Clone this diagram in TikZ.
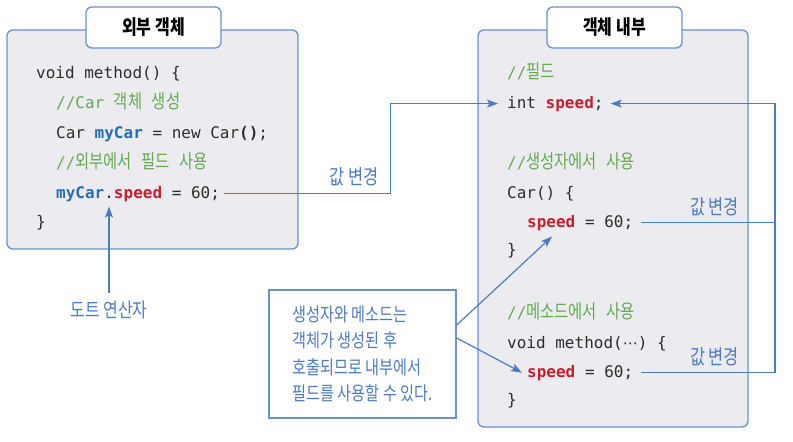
\documentclass[tikz,border=0pt]{standalone}
\usepackage{fontspec}
\setmainfont[FakeStretch=0.8]{Noto Sans CJK KR}
\setmonofont{DejaVu Sans Mono}
\newfontfamily\krf[FakeStretch=0.8]{Noto Sans CJK KR}
\newfontfamily\dejavu{DejaVu Sans}
\usetikzlibrary{arrows.meta}
\definecolor{boxline}{RGB}{104,146,206}
\definecolor{boxfill}{RGB}{236,236,240}
\definecolor{arrowc}{RGB}{72,125,196}
\definecolor{cmtc}{RGB}{100,170,80}
\definecolor{idblue}{RGB}{38,108,178}
\definecolor{idred}{RGB}{196,32,48}
\definecolor{codec}{RGB}{45,45,45}
\definecolor{lblc}{RGB}{76,124,194}
\newcommand\kor[1]{{\krf\fontsize{19.2}{16}\selectfont #1}}
\newcommand\cmtx[1]{\textcolor{cmtc}{#1}}
\newcommand\blueid[1]{\textcolor{idblue}{\bfseries #1}}
\newcommand\redid[1]{\textcolor{idred}{\bfseries #1}}
\tikzset{
  codeline/.style={anchor=base west, inner sep=0pt, text=codec,
    font=\ttfamily\fontsize{16}{16}\selectfont},
  panel/.style={draw=boxline, fill=boxfill, line width=1.3pt, rounded corners=6pt},
  titlebox/.style={draw=boxline, fill=white, line width=1.3pt, rounded corners=6pt,
    minimum width=135pt, minimum height=41pt, inner sep=0pt,
    font=\bfseries\fontsize{20}{20}\selectfont, text=black},
  lbl/.style={inner sep=0pt, text=lblc, font=\fontsize{20.5}{20}\selectfont},
  conn/.style={draw=arrowc, line width=1.2pt},
  tip/.style={-{Stealth[length=11pt,width=8pt,inset=2.5pt]}},
  callout/.style={draw=boxline, fill=white, line width=1.4pt,
    minimum width=187pt, minimum height=128pt, inner sep=0pt, align=left,
    text=lblc, font=\fontsize{19}{26.5}\selectfont},
}
\begin{document}
\begin{tikzpicture}[x=1pt,y=-1pt]
\useasboundingbox (0,0) rectangle (793,442);
% panels
\node[panel, minimum width=291pt, minimum height=219pt, inner sep=0pt] (outer) at (152.5,139.5) {};
\node[panel, minimum width=270pt, minimum height=397pt, inner sep=0pt] (inner) at (613,228.5) {};
\node[titlebox] (t1) at (153.5,27.5) {외부 객체};
\node[titlebox] (t2) at (614.5,27.5) {객체 내부};
% left code
\node[codeline] (l1) at (36,78) {void method() \{};
\node[codeline] (l2) at (56,108) {\cmtx{//Car \kor{객체} \kor{생성}}};
\node[codeline] (l3) at (56,138) {Car \blueid{myCar} = new Car\textbf{()};};
\node[codeline] (l4) at (56,168) {\cmtx{//\kor{외부에서} \kor{필드} \kor{사용}}};
\node[codeline] (l5) at (56,198) {\blueid{myCar}.\redid{speed} = 60;};
\node[codeline] (l6) at (36,227) {\}};
% right code
\node[codeline] (r1) at (507,78) {\cmtx{//\kor{필드}}};
\node[codeline] (r2) at (507,108) {int \redid{speed};};
\node[codeline] (r3) at (507,168) {\cmtx{//\kor{생성자에서} \kor{사용}}};
\node[codeline] (r4) at (507,198) {Car() \{};
\node[codeline] (r5) at (527,227) {\redid{speed} = 60;};
\node[codeline] (r6) at (507,255) {\}};
\node[codeline] (r7) at (507,318) {\cmtx{//\kor{메소드에서} \kor{사용}}};
\node[codeline] (r8) at (507,348) {void method({\dejavu\fontsize{15}{16}\selectfont ⋯}) \{};
\node[codeline] (r9) at (527,377) {\redid{speed} = 60;};
\node[codeline] (r10) at (507,405) {\}};
% labels
\node[lbl] (v1) at (354,177) {값 변경};
\node[lbl] (v2) at (714.5,207) {값 변경};
\node[lbl] (v3) at (714.5,357) {값 변경};
\node[lbl, font=\fontsize{20}{20}\selectfont] (dot) at (109,310) {도트 연산자};
\node[callout] (co) at (362.5,354) {생성자와 메소드는\\객체가 생성된 후\\호출되므로 내부에서\\필드를 사용할 수 있다.};
% elbow columns
\coordinate (k1) at (390.5,0);
\coordinate (k2) at (775,0);
% connectors
\draw[conn,tip] ([xshift=4pt]l5.east) -- (k1 |- l5.east) -- (k1 |- r2.west) -- ([xshift=-9pt]r2.west);
\draw[conn,tip] ([xshift=8pt]r5.east) -- (k2 |- r5.east) -- (k2 |- r2.east) -- ([xshift=7pt]r2.east);
\draw[conn] ([xshift=8pt]r9.east) -- (k2 |- r9.east) -- (k2 |- r5.east);
\draw[conn,tip] ([yshift=8pt]dot.north) -- ([yshift=-5pt]dot.north |- l5.south);
\draw[conn,tip] ([yshift=29pt]co.east) -- ([xshift=25pt,yshift=-6pt]r5.south west);
\draw[conn,tip] ([yshift=16pt]co.east) -- ([xshift=-5pt]r9.west);
\end{tikzpicture}
\end{document}
